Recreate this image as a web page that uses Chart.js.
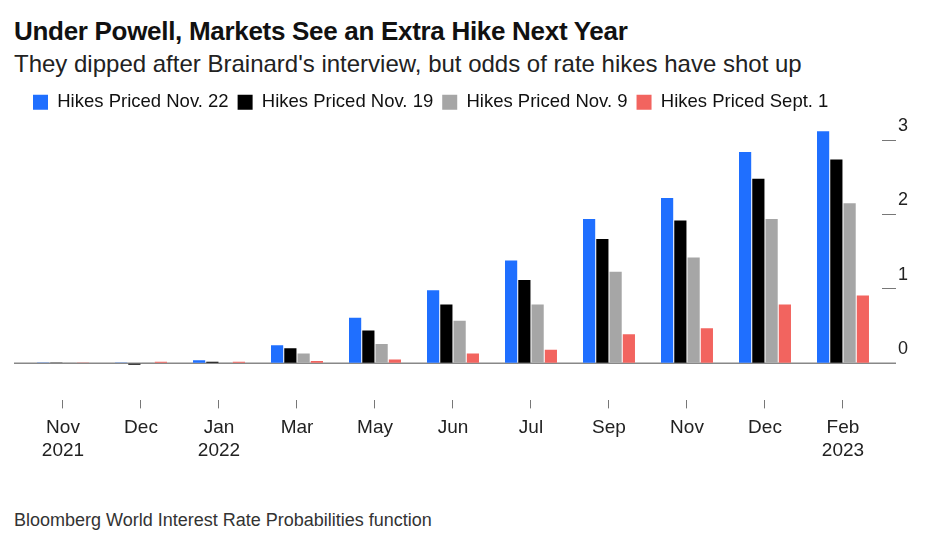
<!DOCTYPE html>
<html lang="en">
<head>
  <meta charset="UTF-8">
  <title>Under Powell, Markets See an Extra Hike Next Year</title>
  <script src="https://cdn.jsdelivr.net/npm/chart.js"></script>
  <style>
    body { margin: 0; font-family: "Liberation Sans", Arial, sans-serif; background: #fff; width: 926px; height: 550px; overflow: hidden; }
    h1 { position: absolute; left: 14px; top: 16px; margin: 0; font-size: 26px; font-weight: bold; color: #111; letter-spacing: -0.3px; }
    h2 { position: absolute; left: 14px; top: 50px; margin: 0; font-size: 24px; font-weight: normal; color: #222; }
    .source { position: absolute; left: 14px; top: 510px; font-size: 18px; color: #333; }
    .wrap { position: absolute; left: 0; top: 84px; width: 910px; height: 386px; }
  </style>
</head>
<body>
  <h1>Under Powell, Markets See an Extra Hike Next Year</h1>
  <h2>They dipped after Brainard's interview, but odds of rate hikes have shot up</h2>
  <div class="wrap"><canvas id="chart"></canvas></div>
  <div class="source">Bloomberg World Interest Rate Probabilities function</div>

  <script>
    const months = [['Nov', '2021'], 'Dec', ['Jan', '2022'], 'Mar', 'May', 'Jun', 'Jul', 'Sep', 'Nov', 'Dec', ['Feb', '2023']];
    const pricedNov22 = [0.01, 0.01, 0.04, 0.24, 0.61, 0.98, 1.38, 1.94, 2.22, 2.84, 3.12];
    const pricedNov19 = [0.01, -0.02, 0.02, 0.20, 0.44, 0.79, 1.12, 1.67, 1.92, 2.48, 2.74];
    const pricedNov9 = [0.01, 0.01, 0.01, 0.13, 0.26, 0.57, 0.79, 1.23, 1.42, 1.94, 2.15];
    const pricedSep1 = [0.01, 0.02, 0.02, 0.03, 0.05, 0.13, 0.18, 0.39, 0.47, 0.79, 0.91];
    const yTicks = [0, 1, 2, 3];

    const zeroLine = {
      id: 'zeroLine',
      beforeDatasetsDraw(c) {
        const y = c.scales.y.getPixelForValue(0);
        const ctx = c.ctx;
        ctx.save();
        ctx.strokeStyle = '#888';
        ctx.lineWidth = 1.5;
        ctx.beginPath();
        ctx.moveTo(c.chartArea.left - 10, y);
        ctx.lineTo(c.chartArea.right + 14, y);
        ctx.stroke();
        ctx.restore();
      }
    };

    new Chart(document.getElementById('chart'), {
      type: 'bar',
      data: {
        labels: months,
        datasets: [
          { label: 'Hikes Priced Nov. 22', data: pricedNov22, backgroundColor: '#1f6fff' },
          { label: 'Hikes Priced Nov. 19', data: pricedNov19, backgroundColor: '#000000' },
          { label: 'Hikes Priced Nov. 9', data: pricedNov9, backgroundColor: '#a6a6a6' },
          { label: 'Hikes Priced Sept. 1', data: pricedSep1, backgroundColor: '#f2645f' }
        ]
      },
      options: {
        responsive: true,
        maintainAspectRatio: false,
        animation: false,
        layout: { padding: { left: 24, right: 0 } },
        datasets: { bar: { barPercentage: 0.92, categoryPercentage: 0.68 } },
        plugins: {
          legend: {
            position: 'top',
            align: 'start',
            labels: { boxWidth: 15, boxHeight: 15, padding: 9, color: '#111', font: { size: 18.5, family: 'Liberation Sans' } }
          },
          tooltip: { enabled: false }
        },
        scales: {
          x: {
            grid: { drawOnChartArea: false, offset: false, tickLength: 8, color: '#777' },
            border: { display: false },
            ticks: { color: '#222', font: { size: 19, family: 'Liberation Sans' }, padding: 8 }
          },
          y: {
            position: 'right',
            min: -0.5,
            max: 3.25,
            afterBuildTicks: s => { s.ticks = yTicks.map(v => ({ value: v })); },
            grid: { drawOnChartArea: false, tickLength: 14, color: '#777' },
            border: { display: false },
            ticks: { color: '#222', font: { size: 18, family: 'Liberation Sans' }, labelOffset: -14, padding: 2 }
          }
        }
      },
      plugins: [zeroLine]
    });
  </script>
</body>
</html>
